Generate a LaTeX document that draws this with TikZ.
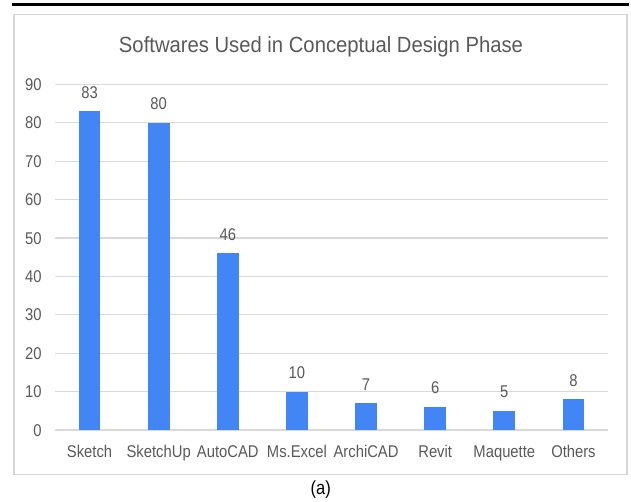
\documentclass[tikz,border=0pt]{standalone}
\usepackage{fontspec}
\setmainfont{Liberation Sans}
\usepackage{graphicx}
\definecolor{bar}{HTML}{4285F4}
\definecolor{grid}{HTML}{D9D9D9}
\definecolor{frame}{HTML}{D6D6D6}
\definecolor{txt}{HTML}{595959}
\tikzset{
  barbox/.style={fill=bar, draw=none},
  gridline/.style={draw=grid, line width=1.1pt},
  ticklabel/.style={inner sep=0pt, anchor=base east, text=txt, font=\fontsize{17}{17}\selectfont},
  vallabel/.style={inner sep=0pt, anchor=base, text=txt, font=\fontsize{17}{17}\selectfont},
  catlabel/.style={inner sep=0pt, anchor=base, text=txt, font=\fontsize{17}{17}\selectfont},
}
\newcommand{\sq}[1]{\scalebox{0.87}[1]{#1}}
\begin{document}
\begin{tikzpicture}[x=1pt,y=-1pt]
\useasboundingbox (0,0) rectangle (631,502);
% top rule
\draw[line width=2.6pt, black] (12,4.5) -- (629,4.5);
% frame
\draw[draw=frame, line width=1.1pt] (14,14.5) rectangle (627,474.5);
% title
\node[inner sep=0pt, anchor=base, text=txt] (title) at (321,53)
  {\resizebox{404pt}{\height}{\fontsize{22}{22}\selectfont Softwares Used in Conceptual Design Phase}};
% gridlines and y labels
\foreach \v in {0,10,...,90}{
  \pgfmathsetmacro{\yy}{430-3.84*\v}
  \draw[gridline] (55,\yy) -- (608,\yy);
  \node[ticklabel] (y\v) at (41.7,\yy+6.1) {\sq{\v}};
}
% bars
\foreach \i/\name/\val in {0/Sketch/83,1/SketchUp/80,2/AutoCAD/46,3/Ms.Excel/10,4/ArchiCAD/7,5/Revit/6,6/Maquette/5,7/Others/8}{
  \pgfmathsetmacro{\cx}{55+69.125*(\i+0.5)}
  \pgfmathsetmacro{\tp}{430-3.84*\val}
  \fill[barbox] (\cx-10.85,430) rectangle (\cx+10.85,\tp);
  \node[vallabel] (v\i) at (\cx,\tp-13) {\sq{\val}};
  \node[catlabel] (c\i) at (\cx,457.6) {\sq{\name}};
}
% caption
\node[inner sep=0pt, anchor=base, text=black, font=\fontsize{19}{19}\selectfont] (cap) at (320.7,494.3) {\sq{(a)}};
\end{tikzpicture}
\end{document}
